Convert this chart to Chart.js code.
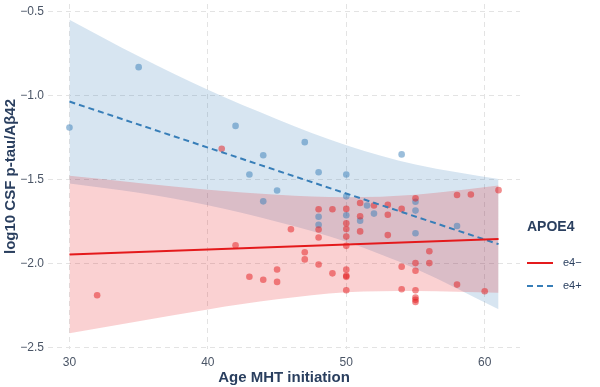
<!DOCTYPE html>
<html>
<head>
<meta charset="utf-8">
<script src="https://cdn.jsdelivr.net/npm/chart.js@4.4.1/dist/chart.umd.min.js"></script>
<style>
  html, body { margin: 0; padding: 0; background: #ffffff; }
  #wrap { position: relative; width: 600px; height: 387px; }
</style>
</head>
<body>
<div id="wrap"><canvas id="c" width="600" height="387"></canvas></div>
<script>
// ---- data ----
const xTicks = [30, 40, 50, 60];
const yTicks = [-2.5, -2.0, -1.5, -1.0, -0.5];

const e4negX = [32, 41, 42, 43, 44, 45, 45, 46, 47, 47, 48, 48, 48, 48, 49, 49,
  50, 50, 50, 50, 50, 50, 50, 50, 50, 51, 51, 51, 52, 53, 53, 53, 54, 54, 54,
  55, 55, 55, 55, 55, 55, 55, 56, 56, 58, 58, 59, 60, 61];
const e4negY = [-2.19, -1.317, -1.892, -2.079, -2.097, -2.036, -2.11, -1.796, -1.933, -1.976,
  -1.677, -1.798, -1.845, -2.006, -1.677, -2.059,
  -1.675, -1.76, -1.795, -1.84, -1.895, -2.037, -2.073, -2.08, -2.16,
  -1.64, -1.719, -1.809, -1.655, -1.651, -1.71, -1.831, -1.675, -2.02, -2.154,
  -1.612, -1.998, -2.044, -2.16, -2.203, -2.217, -2.23, -1.927, -1.998,
  -1.592, -2.126, -1.589, -2.166, -1.563];

const e4posX = [30, 35, 42, 43, 44, 44, 45, 47, 48, 48, 48, 50, 50, 50, 51, 51.5, 52, 54, 55, 55, 55, 58];
const e4posY = [-1.19, -0.83, -1.18, -1.47, -1.355, -1.63, -1.565, -1.277, -1.456, -1.722, -1.77,
  -1.47, -1.60, -1.713, -1.745, -1.655, -1.703, -1.35, -1.632, -1.685, -1.82, -1.777];

const fitX = [30, 61];
const e4negFit = [-1.947, -1.855];
const e4posFit = [-1.035, -1.885];

const bandX = [30, 35, 40, 45, 50, 55, 61];
const e4negUpper = [-1.478, -1.52, -1.56, -1.59, -1.605, -1.59, -1.535];
const e4negLower = [-2.416, -2.344, -2.274, -2.214, -2.171, -2.165, -2.175];
const e4posUpper = [-0.547, -0.765, -0.965, -1.14, -1.295, -1.41, -1.497];
const e4posLower = [-1.523, -1.579, -1.653, -1.752, -1.871, -2.032, -2.273];

const legendTitle = 'APOE4';
const legendLabels = ['e4\u2212', 'e4+'];
const xTitle = 'Age MHT initiation';
const yTitle = 'log10 CSF p-tau/A\u03b242';

// ---- styles ----
const RED = '#e41a1c', BLUE = '#377eb8';
const pts = (xs, ys) => xs.map((x, i) => ({x: x, y: ys[i]}));

const bandStyle = (fillCol) => ({
  type: 'line', pointRadius: 0, borderWidth: 0, borderColor: 'rgba(0,0,0,0)',
  backgroundColor: fillCol, cubicInterpolationMode: 'monotone'
});

const datasets = [
  {type: 'line', label: 'e4-', data: pts(fitX, e4negFit), borderColor: RED, borderWidth: 2,
   pointRadius: 0, fill: false, order: 0},
  {type: 'line', label: 'e4+', data: pts(fitX, e4posFit), borderColor: BLUE, borderWidth: 2,
   borderDash: [6, 4], pointRadius: 0, fill: false, order: 0},
  {type: 'scatter', label: 'pts-', data: pts(e4negX, e4negY), backgroundColor: 'rgba(228,26,28,0.5)',
   borderWidth: 0, pointRadius: 3.3, order: 1},
  {type: 'scatter', label: 'pts+', data: pts(e4posX, e4posY), backgroundColor: 'rgba(55,126,184,0.5)',
   borderWidth: 0, pointRadius: 3.3, order: 1},
  Object.assign(bandStyle('rgba(228,26,28,0.2)'), {label: 'lo-', data: pts(bandX, e4negLower), fill: false, order: 2}),
  Object.assign(bandStyle('rgba(228,26,28,0.2)'), {label: 'up-', data: pts(bandX, e4negUpper), fill: '-1', order: 2}),
  Object.assign(bandStyle('rgba(55,126,184,0.2)'), {label: 'lo+', data: pts(bandX, e4posLower), fill: false, order: 3}),
  Object.assign(bandStyle('rgba(55,126,184,0.2)'), {label: 'up+', data: pts(bandX, e4posUpper), fill: '-1', order: 3})
];

const TICK_COL = '#4a5566', TITLE_COL = '#2a3f5f';
const FONT = '"Liberation Sans", Arial, Helvetica, sans-serif';
const GRID_COL = '#e3e3e3';

const legendPlugin = {
  id: 'customLegend',
  afterDraw(chart) {
    const ctx = chart.ctx;
    ctx.save();
    ctx.fillStyle = TITLE_COL;
    ctx.font = 'bold 14px ' + FONT;
    ctx.textBaseline = 'middle';
    ctx.textAlign = 'left';
    ctx.fillText(legendTitle, 527, 227);
    const rows = [{y: 263, col: RED, dash: []}, {y: 286, col: BLUE, dash: [6, 4]}];
    rows.forEach((r, i) => {
      ctx.strokeStyle = r.col;
      ctx.lineWidth = 2;
      ctx.setLineDash(r.dash);
      ctx.beginPath();
      ctx.moveTo(527, r.y);
      ctx.lineTo(553, r.y);
      ctx.stroke();
      ctx.setLineDash([]);
      ctx.fillStyle = TITLE_COL;
      ctx.font = '11px ' + FONT;
      ctx.fillText(legendLabels[i], 563, r.y);
    });
    ctx.restore();
  }
};

new Chart(document.getElementById('c'), {
  data: {datasets: datasets},
  plugins: [legendPlugin],
  options: {
    responsive: false,
    animation: false,
    events: [],
    layout: {padding: {left: 0, right: 80, top: 0, bottom: 0}},
    plugins: {legend: {display: false}, tooltip: {enabled: false}},
    scales: {
      x: {
        type: 'linear', min: 28.45, max: 62.55,
        afterBuildTicks: (s) => { s.ticks = xTicks.map(v => ({value: v})); },
        afterFit: (s) => { s.height = 38; s.paddingLeft = 0; s.paddingRight = 0; },
        ticks: {color: TICK_COL, font: {family: FONT, size: 12}, padding: 6,
                callback: (v) => String(v), maxRotation: 0, autoSkip: false},
        grid: {color: GRID_COL, lineWidth: 1, drawTicks: false},
        border: {display: false, dash: [5, 4]},
        title: {display: true, text: xTitle, color: TITLE_COL,
                font: {family: FONT, size: 15, weight: 'bold'}, padding: {top: 0, bottom: 0}}
      },
      y: {
        type: 'linear', min: -2.51, max: -0.4535,
        afterBuildTicks: (s) => { s.ticks = yTicks.map(v => ({value: v})); },
        afterFit: (s) => { s.width = 48; s.paddingTop = 0; s.paddingBottom = 0; },
        ticks: {color: TICK_COL, font: {family: FONT, size: 12}, padding: 4,
                callback: (v) => v.toFixed(1).replace('-', '\u2212'), autoSkip: false},
        grid: {color: GRID_COL, lineWidth: 1, drawTicks: false},
        border: {display: false, dash: [5, 4]},
        title: {display: true, text: yTitle, color: TITLE_COL,
                font: {family: FONT, size: 15, weight: 'bold'}, padding: {top: 2, bottom: 0}}
      }
    }
  }
});
</script>
</body>
</html>
